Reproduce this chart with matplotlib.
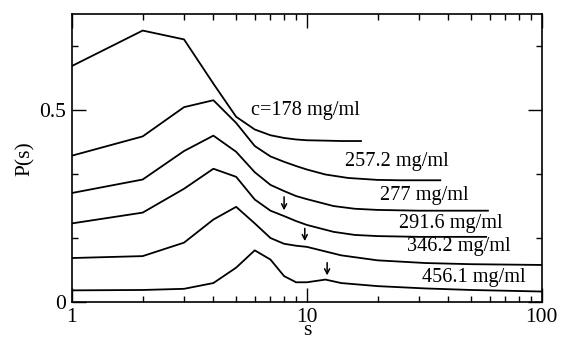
import matplotlib
matplotlib.use("Agg")
import matplotlib.pyplot as plt
from matplotlib.ticker import FixedLocator, NullFormatter

plt.rcParams['font.family'] = ['Liberation Serif', 'DejaVu Serif']

# curves, one per concentration
s1 = [1, 2, 3, 4, 5, 6, 7, 8, 9, 10, 12, 14, 17]
p1 = [0.614, 0.706, 0.683, 0.568, 0.482, 0.449, 0.434, 0.427, 0.423, 0.421, 0.420, 0.419, 0.419]

s2 = [1, 2, 3, 4, 5, 6, 7, 8, 9, 10, 12, 15, 20, 25, 37]
p2 = [0.381, 0.431, 0.507, 0.525, 0.466, 0.406, 0.379, 0.365, 0.354, 0.345, 0.332, 0.323, 0.318, 0.317, 0.317]

s3 = [1, 2, 3, 4, 5, 6, 7, 8, 9, 10, 13, 16, 20, 30, 59]
p3 = [0.284, 0.319, 0.393, 0.433, 0.391, 0.338, 0.305, 0.289, 0.276, 0.268, 0.250, 0.243, 0.240, 0.238, 0.238]

s4 = [1, 2, 3, 4, 5, 6, 7, 8, 9, 10, 13, 16, 20, 30, 58]
p4 = [0.205, 0.233, 0.295, 0.347, 0.326, 0.267, 0.238, 0.224, 0.211, 0.201, 0.183, 0.175, 0.172, 0.170, 0.170]

s5 = [1, 2, 3, 4, 5, 6, 7, 8, 9, 10, 14, 20, 32, 50, 100]
p5 = [0.115, 0.120, 0.155, 0.215, 0.248, 0.205, 0.167, 0.152, 0.147, 0.144, 0.122, 0.109, 0.102, 0.099, 0.097]

s6 = [1, 2, 3, 4, 5, 6, 7, 8, 9, 10, 12, 14, 20, 32, 50, 100]
p6 = [0.031, 0.032, 0.035, 0.050, 0.090, 0.135, 0.111, 0.068, 0.052, 0.052, 0.059, 0.050, 0.042, 0.036, 0.032, 0.028]

labels = ["c=178 mg/ml", "257.2 mg/ml", "277 mg/ml", "291.6 mg/ml", "346.2 mg/ml", "456.1 mg/ml"]
label_x = [5.77, 14.6, 20.5, 24.6, 26.7, 30.9]
label_y = [0.499, 0.366, 0.278, 0.205, 0.144, 0.064]

# downward arrows
arrow_s = [8.0, 9.8, 12.2]
arrow_top = [0.274, 0.192, 0.103]
arrow_tip = [0.239, 0.159, 0.070]

xticks = [1, 10, 100]
xminor = [2, 3, 4, 5, 6, 7, 8, 9, 20, 30, 40, 50, 60, 70, 80, 90]
yticks = [0, 0.5]
yminor = [1/6, 1/3, 2/3]

fig = plt.figure(figsize=(5.65, 3.4), dpi=100)
ax = fig.add_axes([0.1274, 0.1109, 0.8314, 0.8479])

for s, p in [(s1, p1), (s2, p2), (s3, p3), (s4, p4), (s5, p5), (s6, p6)]:
    ax.plot(s, p, color="black", lw=1.3)

for txt, x, y in zip(labels, label_x, label_y):
    ax.text(x, y, txt, ha="left", va="center", fontsize=14.6)

for x, y0, y1 in zip(arrow_s, arrow_top, arrow_tip):
    ax.annotate("", xy=(x, y1), xytext=(x, y0),
                arrowprops=dict(arrowstyle="->,head_length=0.35,head_width=0.18",
                                color="black", lw=1.1, shrinkA=0, shrinkB=0))

ax.set_xscale("log")
ax.set_xlim(1, 100)
ax.set_ylim(0, 0.749)
ax.xaxis.set_major_locator(FixedLocator(xticks))
ax.xaxis.set_minor_locator(FixedLocator(xminor))
ax.xaxis.set_minor_formatter(NullFormatter())
ax.set_xticklabels(["1", "10", "100"])
ax.yaxis.set_major_locator(FixedLocator(yticks))
ax.yaxis.set_minor_locator(FixedLocator(yminor))
ax.set_yticklabels(["0", "0.5"])

ax.tick_params(which="both", direction="in", top=True, right=True, labelsize=15.5, width=1.0)
ax.tick_params(which="major", length=10)
ax.tick_params(which="minor", length=4.5)
ax.tick_params(axis="x", pad=4)
ax.tick_params(axis="y", pad=4)
for sp in ax.spines.values():
    sp.set_linewidth(1.2)

ax.set_xlabel("s", fontsize=15.5, va="bottom")
ax.xaxis.set_label_coords(0.5, -0.13)
ax.set_ylabel("P(s)", fontsize=15.5, va="center")
ax.yaxis.set_label_coords(-0.099, 0.5)

fig.savefig("out.png", dpi=100)
